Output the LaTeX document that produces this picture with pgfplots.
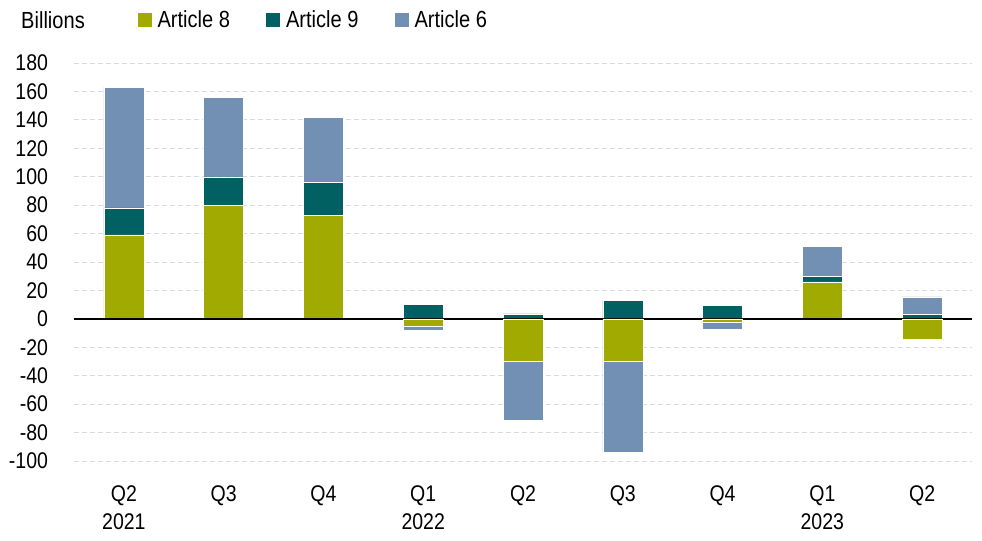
\documentclass[border=0pt]{standalone}
\usepackage{pgfplots}
\pgfplotsset{compat=1.18}
\usepackage{fontspec}
\setmainfont{Liberation Sans}[FakeStretch=0.86]
\definecolor{art8}{RGB}{160,170,0}
\definecolor{art9}{RGB}{0,96,98}
\definecolor{art6}{RGB}{114,144,180}
\definecolor{gridc}{RGB}{218,218,218}
\pgfplotsset{
  common/.style={
    scale only axis, width=673.5pt, height=298.5pt,
    xmin=-0.5, xmax=8.5, ymin=-100, ymax=180,
    ybar stacked, bar width=30pt,
    clip=false,
  }
}
\begin{document}
\begin{tikzpicture}[font=\fontsize{17.5}{21}\selectfont]
\begin{axis}[common,
  axis line style={draw=none},
  major tick length=0pt,
  ytick={-100,-80,...,180},
  xtick={0,...,8},
  xticklabels={{Q2\\2021},Q3,Q4,{Q1\\2022},Q2,Q3,Q4,{Q1\\2023},Q2},
  xticklabel style={align=center, yshift=-15pt, font=\fontsize{17}{21}\selectfont},
  yticklabel style={xshift=-16pt, font=\fontsize{17}{21}\selectfont},
  /pgf/number format/assume math mode=true,
  ymajorgrids,
  grid style={draw=gridc, line width=0.75pt, dash pattern=on 3.75pt off 2.25pt},
  legend columns=3,
  legend style={draw=none, fill=none, at={(rel axis cs:0.066,1.108)}, anchor=west,
    font=\fontsize{17.5}{21}\selectfont,
    /tikz/every even column/.append style={column sep=25pt},
    /tikz/every odd column/.append style={column sep=2.5pt}},
  legend image code/.code={\fill[#1,draw=none] (0pt,-5.25pt) rectangle (10.5pt,5.25pt);},
]
\addplot[fill=art8, draw=white, line width=0.3pt] coordinates {(0,59) (1,80) (2,73) (3,0) (4,0) (5,0) (6,0) (7,26) (8,0)};
\addlegendentry{Article 8}
\addplot[fill=art9, draw=white, line width=0.3pt] coordinates {(0,19) (1,20) (2,23) (3,10) (4,3.5) (5,13) (6,9.5) (7,4) (8,3)};
\addlegendentry{Article 9}
\addplot[fill=art6, draw=white, line width=0.3pt] coordinates {(0,85) (1,56) (2,46) (3,0) (4,0) (5,0) (6,0) (7,21) (8,12.5)};
\addlegendentry{Article 6}
\coordinate (bl) at (rel axis cs:0,0);
\coordinate (tr) at (rel axis cs:1,1);
\node[anchor=west] at (rel axis cs:-0.0640,1.108) {Billions};
\end{axis}
\begin{axis}[common, hide axis]
\addplot[fill=art8, draw=white, line width=0.3pt] coordinates {(0,0) (1,0) (2,0) (3,-5) (4,-30) (5,-29.5) (6,-2.5) (7,0) (8,-14.5)};
\addplot[fill=art6, draw=white, line width=0.3pt] coordinates {(0,0) (1,0) (2,0) (3,-3) (4,-41) (5,-64.5) (6,-5) (7,0) (8,0)};
\draw[black, line width=1pt] (axis cs:-0.5,0) -- (axis cs:8.5,0);
\end{axis}
\pgfresetboundingbox
\path ([xshift=-55.5pt,yshift=-59.25pt]bl) rectangle ([xshift=7.5pt,yshift=47.25pt]tr);
\end{tikzpicture}
\end{document}
